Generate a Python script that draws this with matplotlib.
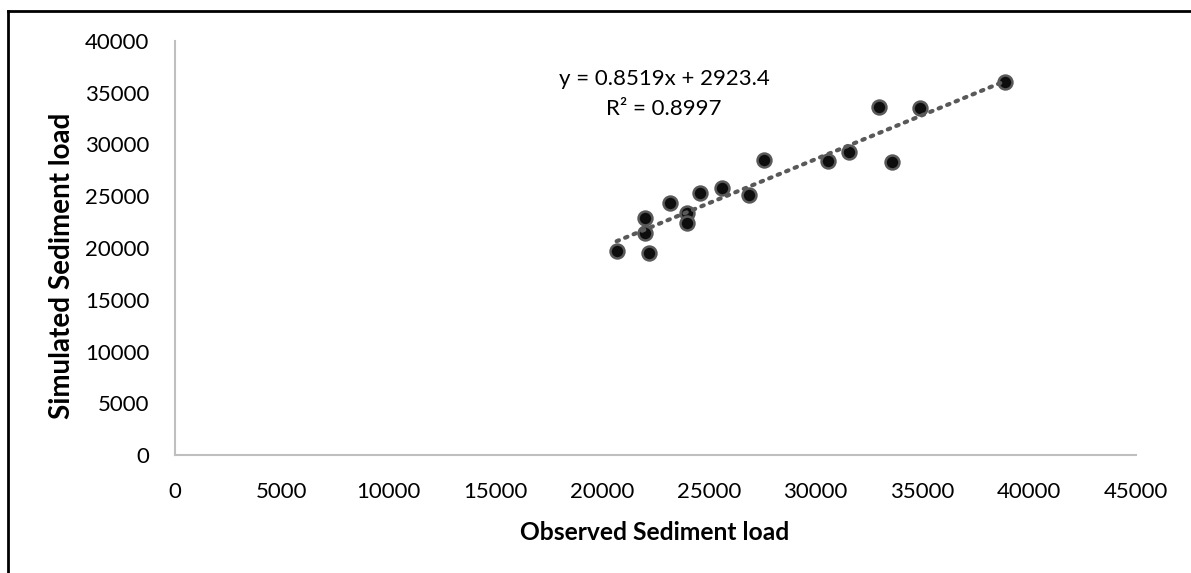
import numpy as np
import matplotlib
matplotlib.use('Agg')
import matplotlib.pyplot as plt
from matplotlib.lines import Line2D

# observed vs simulated sediment load
observed = [20680, 22200, 22010, 22010, 23180, 23960, 23960, 24580, 25600,
            26890, 27580, 30590, 31570, 32980, 33560, 34890, 38860]
simulated = [19740, 19490, 22930, 21480, 24380, 23350, 22440, 25290, 25830,
             25120, 28500, 28440, 29300, 33590, 28340, 33500, 36010]

x_ticks = [0, 5000, 10000, 15000, 20000, 25000, 30000, 35000, 40000, 45000]
y_ticks = [0, 5000, 10000, 15000, 20000, 25000, 30000, 35000, 40000]
eq_text = 'y = 0.8519x + 2923.4\nR² = 0.8997'

plt.rcParams['font.family'] = ['Lato', 'DejaVu Sans']

W, H = 1191, 573
fig = plt.figure(figsize=(W / 100, H / 100), dpi=100)
ax = fig.add_axes([175 / W, 1 - 455 / H, (1136 - 175) / W, (455 - 41) / H])

# trendline over the data range
slope, icpt = np.polyfit(observed, simulated, 1)
xs = np.array([min(observed), max(observed)])
ax.plot(xs, slope * xs + icpt, ls=(0, (0.6, 1.6)), color='#595959', lw=3,
        dash_capstyle='round', zorder=3)

ax.plot(observed, simulated, 'o', ms=10, mfc='#0d0d0d', mec='#595959',
        mew=1.8, ls='none', zorder=2)

ax.set_xlim(0, 45000)
ax.set_ylim(0, 40000)
ax.set_xticks(x_ticks)
ax.set_yticks(y_ticks)
ax.tick_params(length=0, labelsize=16, colors='#000000')
ax.tick_params(axis='x', pad=19.5)
ax.tick_params(axis='y', pad=18.5)

for s in ['top', 'right']:
    ax.spines[s].set_visible(False)
for s in ['left', 'bottom']:
    ax.spines[s].set_color('#bfbfbf')
    ax.spines[s].set_linewidth(1.5)

ax.set_xlabel('Observed Sediment load', fontsize=17.7, fontweight='bold', va='center')
ax.xaxis.set_label_coords(0.4995, -(533 - 455) / 414)
ax.set_ylabel('Simulated Sediment load', fontsize=20, fontweight='bold', va='center')
ax.yaxis.set_label_coords((62 - 175) / 961, 1 - (266 - 41) / 414)

ax.text((664 - 175) / (1136 - 175), 1 - (94 - 41) / (455 - 41), eq_text,
        transform=ax.transAxes, ha='center', va='center', fontsize=16,
        linespacing=1.6)

# outer chart frame (only left and top edges are in view)
fig.add_artist(Line2D([8 / W, 8 / W], [0, 1 - 11 / H], color='black', lw=2))
fig.add_artist(Line2D([8 / W, 1], [1 - 11 / H, 1 - 11 / H], color='black', lw=2))

fig.savefig('out.png', dpi=100)
